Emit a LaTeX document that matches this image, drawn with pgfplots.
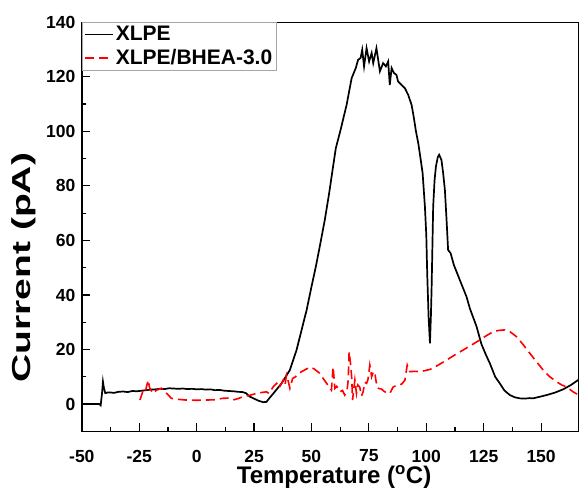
\documentclass[border=0pt]{standalone}
\usepackage{pgfplots}
\pgfplotsset{compat=1.18}
\usepackage{fontspec}
\setmainfont{Liberation Sans}
\begin{document}
\begin{tikzpicture}
\begin{axis}[
  scale only axis, width=496.3pt, height=409pt,
  xmin=-50, xmax=166.2, ymin=-10, ymax=140,
  xtick={-50,-25,0,25,50,75,100,125,150},
  ytick={0,20,40,60,80,100,120,140},
  minor x tick num=1, minor y tick num=1,
  tick pos=left,
  tick align=inside,
  major tick length=8pt, minor tick length=4.5pt,
  every tick/.append style={black, line width=1.2pt},
  axis line style={line width=1.4pt},
  /pgf/number format/assume math mode=true,
  ticklabel style={font=\fontsize{17.5}{20}\selectfont\bfseries},
  xticklabel style={yshift=-15pt},
  yticklabel style={xshift=-3pt},
  title={\rule{0pt}{22pt}},
  every axis title/.style={at={(axis description cs:0,1)}, anchor=south west, xshift=-82pt, inner sep=0pt},
  xlabel={Temperature (\textsuperscript{o}C)\rule[-10pt]{0pt}{10pt}},
  ylabel={\scalebox{1.5}[1]{Current (pA)}},
  every axis x label/.style={at={(axis description cs:0.5,0)}, anchor=base, yshift=-52pt, xshift=4pt, font=\fontsize{24}{28}\selectfont\bfseries},
  every axis y label/.style={at={(axis description cs:-0.1169,0.40)}, anchor=center, rotate=90, font=\fontsize{26}{30}\selectfont\bfseries},
  legend style={at={(0,1)}, anchor=north west, draw=gray!70, line width=0.6pt, font=\fontsize{21}{24}\selectfont\bfseries, inner xsep=2pt, inner ysep=2pt, row sep=3pt},
  legend cell align=left,
  legend image code/.code={\draw[#1] (0pt,0pt) -- (28pt,0pt);},
]
\addplot[black, line width=1.7pt] coordinates {
(-50,0)(-43,0)(-42.4,0)(-41.8,-0.5)(-41.2,4)(-40.8,8.2)(-40.4,6)(-39.8,4)(-39,4.2)(-38,4.3)(-36,4.1)(-34,4.5)(-32,4.6)(-30,4.4)(-28,4.8)(-26,4.7)(-24,4.9)(-22,5.1)(-20,5.3)(-18,5.4)(-16,5.6)(-14,5.5)(-12,5.8)(-10,5.7)(-8,5.6)(-6,5.7)(-4,5.5)(-2,5.6)(0,5.4)(2,5.5)(4,5.3)(6,5.4)(8,5.1)(10,5.2)(12,4.9)(14,4.8)(16,4.7)(18,4.5)(20,4.4)(21.5,4.0)(23,2.8)(25,2.0)(27,1.2)(29,0.7)(30.4,0.8)(32,2.5)(34,4.5)(37,7.6)(40.6,12.5)(43.5,19.8)(45.7,27.2)(47.9,34.5)(50,43)(51.9,50.4)(53.6,57.7)(55.8,67.5)(57.7,77.3)(59.2,85.9)(60.6,93.8)(62.7,100.6)(65.3,109.7)(67.5,119.5)(69.3,123.2)(70.3,126.2)(71.4,126.9)(72.1,129.9)(72.9,123.8)(74,130.5)(75.1,125.6)(76.2,128.7)(76.9,125)(78.3,130.5)(79.8,122)(81.2,125)(82.4,123.8)(83.4,125.6)(84.1,117)(84.9,123.2)(85.9,121.4)(87,120.7)(87.7,118.3)(89.2,117)(90.7,115.8)(92.1,113.4)(93.6,109.7)(94.5,105.4)(95.5,100)(96.5,95.7)(97.5,90)(98.4,84.7)(99.4,72.4)(100,62)(100.4,48)(101,32)(101.6,22.3)(102,32)(102.3,41.8)(103,72.4)(103.6,82)(104.2,87.1)(105,90.5)(105.6,91.4)(106.6,89.5)(107.3,85)(108.1,78.5)(108.8,68)(109.5,56.5)(110.6,55.3)(112,51)(114.6,45.5)(117.5,39.4)(119,35)(121.9,28.4)(124,22)(126,18)(127.7,14.9)(130,10)(132,7.6)(134,5)(136.4,3.3)(138.5,2.5)(140.7,2.1)(143,2.0)(145,2.2)(146.5,2.1)(149,2.6)(152.4,3.3)(156,4.2)(159.6,5.4)(163,7)(166.1,8.8)(168,10)
};
\addlegendentry{XLPE}
\addplot[red, line width=1.6pt, dash pattern=on 9pt off 5pt] coordinates {
(-24.7,1.5)(-23.5,4.5)(-22.5,4.0)(-21.8,6.5)(-21.1,8.8)(-20.5,6)(-19,3.9)(-17.5,5.1)(-15.3,5.8)(-13,3.9)(-11,2.1)(-8.8,1.8)(-5,1.5)(0,1.4)(5,1.5)(8.6,1.6)(11,2.1)(13.7,2.2)(15.8,1.5)(18,2.0)(20.2,2.7)(23,3.2)(26,3.9)(28,4.2)(30.4,4.5)(31.5,3.9)(33.3,6.3)(34.8,7.6)(36,6)(37.7,8.8)(38.5,7)(39.1,10.6)(40,8)(40.6,5.8)(41.8,9.4)(43,10)(44.9,11.5)(47,12.5)(49.3,13.5)(51,13)(53.6,11.3)(55,9.5)(56.6,7.6)(57.5,6.5)(58.7,5.1)(59.4,13.7)(60.2,5.8)(61,6.5)(62.4,4.5)(63.5,5)(64.5,3.3)(65.5,5)(66,8.8)(66.4,19.2)(67,14.9)(67.5,10)(67.9,1.5)(68.5,6)(68.9,8.8)(69.6,3.9)(70.2,7)(71,6.3)(71.8,3)(72.5,4.5)(73.2,8)(74,7.6)(74.6,9)(75.4,14.3)(76.2,10)(77,12)(77.6,11.3)(78.2,8)(79,5.8)(80.5,5.5)(81.9,4.5)(83,4.2)(84.1,3.9)(85.6,6.3)(87,6.8)(88.5,7)(89.5,7.5)(90.7,8.8)(91.7,14.3)(92.8,11.9)(95,12)(97.2,11.9)(99,12.2)(101.6,12.7)(105,14.2)(108.8,16.1)(112,17.8)(116,19.8)(120,21.8)(123.3,23.5)(126,25)(129.1,26.5)(131.5,27)(134.2,27.2)(136.5,26.5)(139.3,24.7)(142,22)(145.1,18.6)(148,15.5)(150.9,12.5)(153.5,10.2)(156.7,8.2)(159,7)(161.1,6.3)(163.9,4.5)(166,3.5)
};
\addlegendentry{XLPE/BHEA-3.0}
\end{axis}
\end{tikzpicture}
\end{document}
